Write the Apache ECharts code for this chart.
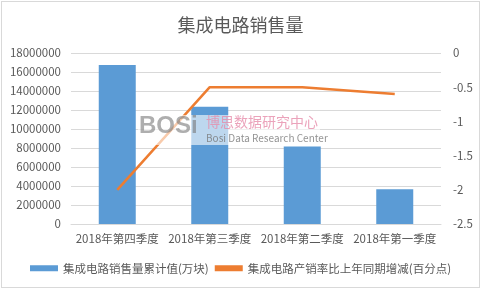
<!DOCTYPE html>
<html><head><meta charset="utf-8">
<script src="https://cdn.jsdelivr.net/npm/echarts@6/dist/echarts.min.js"></script>
<style>
html,body{margin:0;padding:0;background:#fff;}
#c{position:absolute;left:1px;top:1px;width:479px;height:287px;border:1px solid #d9d9d9;box-sizing:border-box;}
</style></head>
<body><div id="c"></div>
<script>
const categories = ['2018年第四季度','2018年第三季度','2018年第二季度','2018年第一季度'];
const salesValues = [16750000, 12350000, 8160000, 3660000];
const rateValues = [-2.0, -0.5, -0.5, -0.6];
const leftTicks = [0,2000000,4000000,6000000,8000000,10000000,12000000,14000000,16000000,18000000];
const rightTicks = [-2.5,-2,-1.5,-1,-0.5,0];
const seriesNames = ['集成电路销售量累计值(万块)','集成电路产销率比上年同期增减(百分点)'];

const chart = echarts.init(document.getElementById('c'));
const font = 'Microsoft YaHei, "Noto Sans CJK SC", sans-serif';
chart.setOption({
  animation:false,
  textStyle:{fontFamily:font},
  title:{text:'集成电路销售量',left:'center',top:9,textStyle:{fontSize:18,fontWeight:'normal',color:'#595959',fontFamily:font}},
  grid:{left:69,right:38,top:51,bottom:63,containLabel:false},
  legend:{bottom:8,itemGap:6,itemWidth:28,itemHeight:6,textStyle:{fontSize:11.5,color:'#595959'},
    data:[{name:seriesNames[0],icon:'rect'},{name:seriesNames[1],icon:'rect',itemStyle:{color:'#ED7D31'}}]},
  xAxis:{type:'category',data:categories,axisTick:{show:false},axisLine:{lineStyle:{color:'#d9d9d9'}},
    axisLabel:{color:'#595959',fontSize:11.5,margin:9,interval:0}},
  yAxis:[
    {type:'value',min:0,max:18000000,interval:2000000,axisLine:{show:false},axisTick:{show:false},
     axisLabel:{color:'#595959',fontSize:11.5,margin:10,formatter:function(v){return String(v);}},splitLine:{lineStyle:{color:'#d9d9d9'}}},
    {type:'value',min:-2.5,max:0,interval:0.5,axisLine:{show:false},axisTick:{show:false},
     axisLabel:{color:'#595959',fontSize:11.5,margin:12,formatter:function(v){return String(v);}},splitLine:{show:false}}
  ],
  series:[
    {name:seriesNames[0],type:'bar',data:salesValues,barWidth:'40%',itemStyle:{color:'#5B9BD5'},yAxisIndex:0},
    {name:seriesNames[1],type:'line',data:rateValues,yAxisIndex:1,symbol:'none',lineStyle:{color:'#ED7D31',width:2.5},itemStyle:{color:'#ED7D31'}}
  ],
  graphic:[
    {type:'rect',left:136,top:113,z:100,shape:{width:182,height:30},style:{fill:'rgba(255,255,255,0.6)'}},
    {type:'text',left:137,top:112,z:101,style:{text:'BOSi',fontSize:24,fontWeight:'bold',fill:'rgba(120,120,120,0.6)',fontFamily:'Arial'}},
    {type:'text',left:204,top:113,z:101,style:{text:'博思数据研究中心',fontSize:14,fill:'rgba(230,140,170,0.8)',fontFamily:font}},
    {type:'text',left:204,top:131,z:101,style:{text:'Bosi Data Research Center',fontSize:10,fill:'rgba(120,120,120,0.8)',fontFamily:font}}
  ]
});
</script></body></html>
